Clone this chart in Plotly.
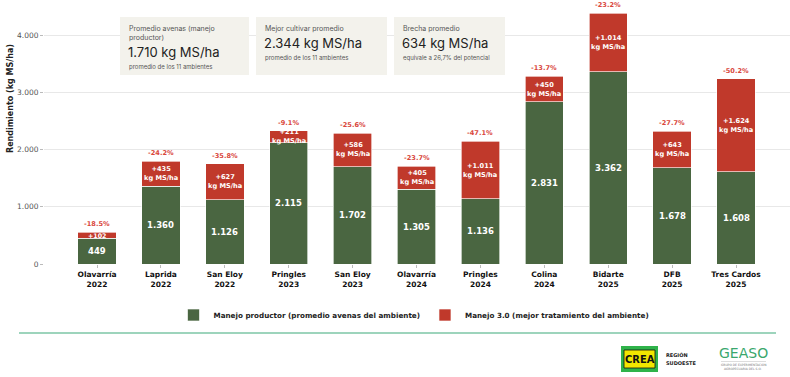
import plotly.graph_objects as go

# ---------------- data ----------------
sites = ["Olavarría", "Laprida", "San Eloy", "Pringles", "San Eloy", "Olavarría",
         "Pringles", "Colina", "Bidarte", "DFB", "Tres Cardos"]
years = ["2022", "2022", "2022", "2023", "2023", "2024", "2024", "2024", "2025", "2025", "2025"]
productor = [449, 1360, 1126, 2115, 1702, 1305, 1136, 2831, 3362, 1678, 1608]
brecha = [102, 435, 627, 211, 586, 405, 1011, 450, 1014, 643, 1624]
brecha_pct = ["-18.5%", "-24.2%", "-35.8%", "-9.1%", "-25.6%", "-23.7%", "-47.1%",
              "-13.7%", "-23.2%", "-27.7%", "-50.2%"]
y_ticks = [0, 1000, 2000, 3000, 4000]
y_ticklabels = ["0", "1.000", "2.000", "3.000", "4.000"]

cards = [
    ("Promedio avenas (manejo<br>productor)", "1.710 kg MS/ha", "promedio de los 11 ambientes"),
    ("Mejor cultivar promedio", "2.344 kg MS/ha", "promedio de los 11 ambientes"),
    ("Brecha promedio", "634 kg MS/ha", "equivale a 26,7% del potencial"),
]

GREEN = "#4a6641"
RED = "#c0392b"
FONT = "DejaVu Sans"
CARD_FONT = "Inter"


def fmt(v):
    return f"{v:,}".replace(",", ".")


W, H = 790, 377
L, R, T, B = 44, 790, 5, 264  # plot area in pixels


def px(x):
    return (x - L) / (R - L)


def py(y):
    return (B - y) / (B - T)


cats = list(range(len(sites)))
ticktext = [f"{s}<br>{y}" for s, y in zip(sites, years)]

fig = go.Figure()
fig.add_trace(go.Bar(
    x=cats, y=productor, name="Manejo productor (promedio avenas del ambiente)",
    marker=dict(color=GREEN, line=dict(color="rgba(255,255,255,0.8)", width=0.8)),
    width=0.6, hoverinfo="skip",
))
fig.add_trace(go.Bar(
    x=cats, y=brecha, name="Manejo 3.0 (mejor tratamiento del ambiente)",
    marker=dict(color=RED, line=dict(color="rgba(255,255,255,0.8)", width=0.8)),
    width=0.6, hoverinfo="skip",
))

annotations = []
for i, (p, g, pc) in enumerate(zip(productor, brecha, brecha_pct)):
    annotations.append(dict(x=i, y=p / 2, text=fmt(p), showarrow=False,
                            xanchor="center", yanchor="middle",
                            font=dict(family=FONT, size=8.5, color="white", weight="bold")))
    gtxt = f"+{fmt(g)}" if g < 150 else f"+{fmt(g)}<br>kg MS/ha"
    annotations.append(dict(x=i, y=p + g / 2, text=gtxt, showarrow=False,
                            xanchor="center", yanchor="middle",
                            font=dict(family=FONT, size=6.6 if g >= 150 else 6.3,
                                      color="white", weight="bold")))
    annotations.append(dict(x=i, y=p + g, text=pc, showarrow=False, xanchor="center",
                            yanchor="bottom", yshift=2,
                            font=dict(family=FONT, size=6.6, color="#d9473c", weight="bold")))


def ann(x, y, text, size, color, xanchor="center", weight="normal", family=FONT, **kw):
    annotations.append(dict(xref="paper", yref="paper", x=px(x), y=py(y), text=text,
                            showarrow=False, xanchor=xanchor, yanchor=kw.pop("yanchor", "middle"),
                            align=kw.pop("align", "left"),
                            font=dict(family=family, size=size, color=color, weight=weight),
                            **kw))


# y axis title
ann(10, 99, "Rendimiento (kg MS/ha)", 8, "#222", weight="bold", textangle=-90)

shapes = []
# cards
card_x = [(120, 249), (256, 387), (394, 505)]
for (x0, x1), (head, val, sub), ival in zip(card_x, cards, [52, 43, 43]):
    shapes.append(dict(type="rect", xref="paper", yref="paper",
                       x0=px(x0), x1=px(x1), y0=py(75), y1=py(17),
                       fillcolor="#f3f2ec", line=dict(width=0), layer="above"))
    ann(x0 + 7, 22, head, 7, "#555", xanchor="left", family=CARD_FONT, yanchor="top")
    ann(x0 + 6, ival, val, 13, "#222", xanchor="left", family=CARD_FONT)
    ann(x0 + 7, 67 if ival == 52 else 58, sub, 6, "#555", xanchor="left", family=CARD_FONT)

# footer line
shapes.append(dict(type="line", xref="paper", yref="paper", x0=px(19), x1=px(776),
                   y0=py(333), y1=py(333), line=dict(color="#7cc6a6", width=1.5)))

# CREA logo
shapes.append(dict(type="rect", xref="paper", yref="paper", x0=px(621), x1=px(658),
                   y0=py(372), y1=py(346), fillcolor="#2fb34a", line=dict(width=0)))
shapes.append(dict(type="rect", xref="paper", yref="paper", x0=px(624), x1=px(655),
                   y0=py(368), y1=py(350), fillcolor="#f2e600",
                   line=dict(color="#111", width=0.8)))
ann(639.5, 359, "CREA", 11, "#111", weight="bold", family="DejaVu Sans Condensed")
ann(664, 355, "REGIÓN", 5, "#222", xanchor="left", weight="bold")
ann(664, 363, "SUDOESTE", 5, "#222", xanchor="left", weight="bold")
# GEASO logo
ann(743, 353, "GEASO", 14, "#3aa76d")
shapes.append(dict(type="line", xref="paper", yref="paper", x0=px(721), x1=px(766),
                   y0=py(361.5), y1=py(361.5), line=dict(color="#bbb", width=0.5)))
ann(743, 364.5, "GRUPO DE EXPERIMENTACIÓN", 3, "#777")
ann(743, 368.5, "AGROPECUARIA DEL S.O.", 3, "#777")

fig.update_layout(
    width=W, height=H, barmode="stack",
    margin=dict(l=L, r=W - R, t=T, b=H - B),
    paper_bgcolor="white", plot_bgcolor="white",
    font=dict(family=FONT, color="#222"),
    showlegend=True,
    legend=dict(orientation="h", x=px(414), xanchor="center", y=py(315), yanchor="middle",
                font=dict(family=FONT, size=7.2, color="#222", weight="bold"),
                itemwidth=30, traceorder="normal"),
    annotations=annotations, shapes=shapes,
    bargap=0.4,
)
fig.update_xaxes(range=[-0.83, 10.845], tickmode="array", tickvals=cats, ticktext=ticktext,
                 ticks="outside", ticklen=3, tickcolor="#bbb", showgrid=False,
                 showline=False, zeroline=False,
                 tickfont=dict(family=FONT, size=7.5, color="#111", weight="bold"))
fig.update_yaxes(range=[0, 4524], tickmode="array", tickvals=y_ticks, ticktext=y_ticklabels,
                 ticks="outside", ticklen=3, tickcolor="#bbb", showgrid=True,
                 gridcolor="#e8e8e8", gridwidth=1, zeroline=False, showline=False,
                 tickfont=dict(family=FONT, size=7.5, color="#555"))

fig.write_html("out.html")
